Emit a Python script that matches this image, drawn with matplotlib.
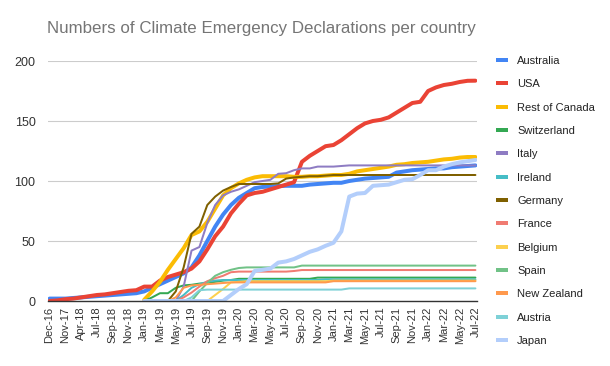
import numpy as np
import matplotlib
matplotlib.use("Agg")
import matplotlib.pyplot as plt
from matplotlib.lines import Line2D

plt.rcParams['font.family'] = ['Liberation Sans', 'DejaVu Sans']

categories = (["Dec-16", "May-17", "Nov-17", "Feb-18", "Apr-18", "Jun-18"] +
              [f"{m}-{y}" for y in range(18, 23) for m in
               ["Jan", "Feb", "Mar", "Apr", "May", "Jun", "Jul", "Aug", "Sep", "Oct", "Nov", "Dec"]
               if not (y == 18 and m in ["Jan", "Feb", "Mar", "Apr", "May", "Jun"])
               and not (y == 22 and m in ["Aug", "Sep", "Oct", "Nov", "Dec"])])

N = None
australia = [2, 2, 2, 2.5, 3, 3.5, 4, 4.5, 5, 5.5, 6, 6.5, 8, 11, 14, 17, 20, 23, 28, 38,
             50, 62, 72, 80, 86, 90, 94, 95, 95.5, 95.8, 96, 96, 96, 97, 97.5, 98, 98.5, 98.5,
             100, 101, 102, 102.5, 103, 103.5, 107, 108, 109, 109.5, 110, 110.5, 110.5, 111.5,
             112, 112.5, 113]
usa = [0, 0.5, 1.5, 2, 3, 4, 5, 5.5, 6.5, 7.5, 8.5, 9, 12, 12, 17, 20, 22, 24, 27, 33,
       43, 54, 62, 73, 81, 88, 90, 91, 93, 95, 97, 99, 116, 121, 125, 129, 130, 134, 139, 144,
       148, 150, 151, 153, 157, 161, 165, 166, 175, 178, 180, 181, 182.5, 183.5, 183.6]
canada = [N] * 12 + [1, 8, 16, 26, 35, 44, 55, 58, 66, 77, 88, 94, 98, 101, 103, 104, 104,
                     104, 104, 103.5, 103.5, 104, 104, 104.5, 105, 105, 106, 108, 109, 110, 111,
                     112, 113.5, 114, 115, 115.5, 116, 117, 118, 118.5, 119.5, 120, 120]
switzerland = [N] * 12 + [0, 3, 6.5, 6.5, 11, 13, 13.5, 14.5, 15, 16, 17, 17.5] + [18.5] * 10 + [19.5] * 21
italy = [N] * 16 + [0, 12, 42, 45, 65, 80, 88, 91, 93, 96, 99, 100, 101, 106, 106.5, 109,
                    110.5, 110.5, 112, 112, 112, 112.5] + [113] * 17
ireland = [N] * 16 + [0, 5, 11, 14, 16, 17] + [17.5] * 13 + [18] * 20
germany = [N] * 15 + [0, 8, 28, 56, 62, 80, 87, 92, 95, 97.5, 97.5, 97.5, 97.5, 97.5, 98, 102,
                      103, 103.5, 104, 104, 104.5] + [105] * 19
france = [N] * 16 + [0, 3, 7, 12, 16.5, 19, 21, 24] + [24.5] * 7 + [25] + [25.8] * 23
belgium = [N] * 20 + [0, 5, 10, 15.5, 16] + [16.5] * 11 + [17] * 19
spain = [N] * 18 + [0, 8, 15, 21, 24, 26, 27.5] + [28] * 7 + [29.5] * 23
new_zealand = [N] * 15 + [0, 3, 11, 13, 13.5, 14, 14.5, 15] + [15.5] * 13 + [16.5] * 19
austria = [N] * 17 + [0, 3, 9] + [9.5] * 18 + [10.5] * 17
japan = [N] * 12 + [0] * 11 + [5, 10, 14, 25, 26, 27, 32, 33, 35, 38, 41, 43, 46, 48.5, 58, 87,
                               89.5, 90, 96, 96.5, 97, 99, 101, 101.5, 105, 109, 109, 112, 114,
                               115.5, 116.5, 117.5]

series = [
    ("Australia", australia, "#4285F4", 4),
    ("USA", usa, "#EA4335", 4),
    ("Rest of Canada", canada, "#FBBC04", 4),
    ("Switzerland", switzerland, "#34A853", 2),
    ("Italy", italy, "#8E7CC3", 2),
    ("Ireland", ireland, "#46BDC6", 2),
    ("Germany", germany, "#7F6000", 2),
    ("France", france, "#F07B72", 2),
    ("Belgium", belgium, "#FCD04F", 2),
    ("Spain", spain, "#71C287", 2),
    ("New Zealand", new_zealand, "#FF994D", 2),
    ("Austria", austria, "#7ED1D7", 2),
    ("Japan", japan, "#B3CEFB", 4),
]

fig = plt.figure(figsize=(6.1, 3.66), dpi=100)
ax = fig.add_axes([48 / 610, 1 - 301 / 366, (477 - 48) / 610, 240 / 366])

x = np.arange(len(categories))
px = 72 / 100
for name, vals, col, lw in series:
    y = np.array([np.nan if v is None else v for v in vals], dtype=float)
    ax.plot(x, y, color=col, lw=lw * px, solid_joinstyle='round', solid_capstyle='round')

ax.set_xlim(-0.2, len(categories) - 1 + 0.2)
ax.set_ylim(0, 200)
ax.set_yticks([0, 50, 100, 150, 200])
ax.set_xticks(x[::2])
ax.set_xticklabels(categories[::2], rotation=90, fontsize=8, color="#333333")
ax.tick_params(axis='y', labelsize=9, labelcolor="#333333", length=0, pad=9)
ax.tick_params(axis='x', length=0, pad=4)
ax.grid(axis='y', color="#cccccc", lw=0.8)
ax.set_axisbelow(True)
for s in ["left", "right", "top"]:
    ax.spines[s].set_visible(False)
ax.spines["bottom"].set_color("#333333")
ax.spines["bottom"].set_linewidth(1)

fig.text(261 / 610, 1 - 29 / 366, "Numbers of Climate Emergency Declarations per country",
         ha="center", va="center", fontsize=12.2, color="#757575")

handles = [Line2D([0], [0], color=c, lw=4 * px, solid_capstyle='butt') for _, _, c, _ in series]
labels = [n for n, _, _, _ in series]
fig.legend(handles, labels, loc="upper left", bbox_to_anchor=(496 / 610, 1 - 56 / 366),
           frameon=False, fontsize=8, handlelength=1.1, handletextpad=0.8,
           labelspacing=1.2, borderaxespad=0, borderpad=0, labelcolor="#222222")

fig.savefig("out.png", dpi=100)
